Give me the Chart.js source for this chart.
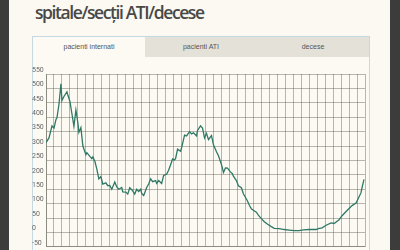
<!DOCTYPE html>
<html lang="ro">
<head>
  <meta charset="UTF-8">
  <title>spitale/secții ATI/decese</title>
  <script src="https://cdn.jsdelivr.net/npm/chart.js"></script>
  <style>
    html, body { margin: 0; padding: 0; background: #3c3c3a; width: 400px; height: 250px; overflow: hidden; }
    .page { position: absolute; left: 9px; top: 0; width: 381px; height: 270px; background: #fbf9f1; }
    h1 { position: absolute; left: 26px; top: 0px; margin: 0; font-family: "Open Sans", sans-serif; font-weight: 600; font-size: 17.5px; letter-spacing: -1.4px; color: #484848; white-space: nowrap; }
    .panel { position: absolute; left: 23px; top: 36px; width: 336px; height: 240px; border: 1px solid #c4d9e2; background: #fcfaf3; }
    .tabs { display: flex; height: 20px; }
    .tab { flex: 1; background: #e4e1d9; font-family: "Liberation Sans", sans-serif; font-size: 7px; color: #555; text-align: center; line-height: 20px; }
    .tab.activ { background: #fcfaf3; }
    .grafic { position: absolute; left: 32px; top: 62px; width: 338px; height: 189px; }
  </style>
</head>
<body>
  <div class="page">
    <h1>spitale/secții ATI/decese</h1>
    <div class="panel">
      <div class="tabs">
        <div class="tab activ">pacienti internati</div>
        <div class="tab">pacienti ATI</div>
        <div class="tab">decese</div>
      </div>
    </div>
  </div>
  <div class="grafic"><canvas id="internatiChart"></canvas></div>

  <script>
    // zile de la inceputul intervalului si numarul de pacienti internati
    const zile = [0, 3, 6, 8, 10, 11, 13, 15, 16, 18, 21, 22, 24, 26, 28, 30, 32, 33, 35, 37,
      40, 41, 44, 46, 47, 49, 51, 53, 55, 57, 60, 62, 64, 66, 69, 71, 73, 76, 77, 80,
      82, 84, 86, 87, 89, 91, 93, 95, 96, 98, 101, 103, 105, 107, 110, 111, 113, 116, 118, 121,
      123, 125, 127, 129, 130, 132, 135, 136, 139, 141, 144, 146, 148, 151, 152, 155, 157, 159, 161, 163,
      166, 168, 171, 173, 176, 178, 180, 182, 185, 187, 188, 191, 193, 196, 198, 200, 202, 204, 206, 208,
      211, 213, 216, 219, 222, 226, 229, 234, 239, 244, 249, 254, 258, 264, 271, 273, 277, 281, 286, 289,
      294, 297, 302, 307, 311, 313, 316, 317, 319];
    const internati = [312, 328, 370, 362, 392, 398, 445, 516, 458, 472, 488, 476, 455, 412, 368, 425, 380, 347, 364, 300,
      270, 277, 264, 256, 262, 247, 220, 186, 194, 168, 172, 162, 163, 150, 175, 158, 150, 156, 141, 140,
      133, 155, 148, 144, 133, 150, 142, 150, 135, 128, 156, 168, 186, 176, 180, 170, 180, 170, 198, 202,
      216, 235, 255, 252, 257, 289, 282, 294, 338, 335, 350, 342, 346, 335, 354, 370, 362, 328, 344, 322,
      336, 304, 280, 266, 236, 208, 224, 223, 210, 204, 195, 180, 162, 155, 134, 122, 110, 94, 82, 77,
      70, 60, 48, 37, 29, 20, 14, 13, 10, 8, 6, 6, 9, 10, 10, 13, 16, 25, 33, 31,
      44, 58, 76, 93, 102, 116, 138, 155, 184];
    const valoriY = [-50, 0, 50, 100, 150, 200, 250, 300, 350, 400, 450, 500, 550];

    const puncte = zile.map((z, i) => ({ x: z, y: internati[i] }));
    const gri = 'rgba(60, 60, 50, 0.36)';

    new Chart(document.getElementById('internatiChart'), {
      type: 'line',
      data: {
        datasets: [{
          label: 'pacienti internati',
          data: puncte,
          borderColor: '#2f7866',
          borderWidth: 1.3,
          pointRadius: 0,
          tension: 0,
          fill: false
        }]
      },
      options: {
        responsive: true,
        maintainAspectRatio: false,
        animation: false,
        layout: { padding: { top: 12, right: 5, bottom: 0, left: 0 } },
        plugins: { legend: { display: false }, tooltip: { enabled: false } },
        scales: {
          x: {
            type: 'linear',
            min: 0,
            max: 320,
            grid: { color: gri, lineWidth: 1, drawTicks: false },
            border: { color: gri },
            ticks: { display: false, stepSize: 8 }
          },
          y: {
            min: valoriY[0],
            max: valoriY[valoriY.length - 1],
            afterFit: scale => { scale.width = 14; },
            afterBuildTicks: scale => { scale.ticks = valoriY.map(v => ({ value: v })); },
            grid: { color: gri, lineWidth: 1, drawTicks: false },
            border: { color: gri },
            ticks: {
              crossAlign: 'far',
              padding: 0,
              labelOffset: -4,
              color: '#666',
              font: { family: 'Roboto', size: 7 }
            }
          }
        }
      }
    });
  </script>
</body>
</html>
